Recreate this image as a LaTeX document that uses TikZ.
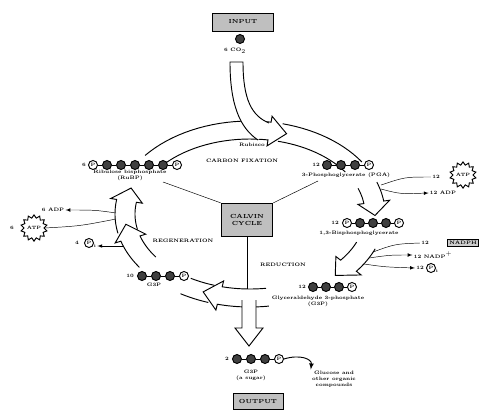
\documentclass[tikz,border=0pt]{standalone}
\usepackage{tikz}
\usetikzlibrary{shapes, positioning}

\tikzset{
  cc/.style={circle, draw, thick, fill=black!75, minimum size=0.27cm, inner sep=0pt},
  pp/.style={circle, draw, thick, fill=white, minimum size=0.27cm, inner sep=0pt,
    font=\fontsize{4}{4}\selectfont\bfseries},
  lbl/.style={font=\fontsize{4.2}{5}\selectfont\bfseries, inner sep=1pt, align=center},
  tag/.style={draw, thick, fill=black!25, inner sep=2pt, align=center,
    font=\fontsize{5}{6}\selectfont\bfseries},
  burst/.style={star, star points=14, star point ratio=1.3, draw, thick, fill=white,
    minimum size=0.62cm, inner sep=0pt, font=\fontsize{4}{4}\selectfont\bfseries},
}

% wide arrow along the cycle, from angle #1 to #2, head tip at #3
\newcommand{\bandhead}[3]{%
  \filldraw[thick, fill=white] plot[domain=#1:#2, samples=20] ({135*cos(\x)}, {93*sin(\x)})
    -- ({141*cos(#2)}, {99*sin(#2)}) -- ({125*cos(#3)}, {84*sin(#3)})
    -- ({109*cos(#2)}, {69*sin(#2)}) -- ({115*cos(#2)}, {75*sin(#2)})
    -- plot[domain=#2:#1, samples=20] ({115*cos(\x)}, {75*sin(\x)});
}
% the two edges only
\newcommand{\bandopen}[2]{%
  \fill[white] plot[domain=#1:#2, samples=15] ({135*cos(\x)}, {93*sin(\x)})
    -- plot[domain=#2:#1, samples=15] ({115*cos(\x)}, {75*sin(\x)}) -- cycle;
  \draw[thick] plot[domain=#1:#2, samples=15] ({135*cos(\x)}, {93*sin(\x)});
  \draw[thick] plot[domain=#1:#2, samples=15] ({115*cos(\x)}, {75*sin(\x)});
}

\begin{document}
\begin{tikzpicture}[x=0.03cm, y=-0.03cm, > = latex]
  \useasboundingbox (0,0) rectangle (496,414);

  % the cycle
  \begin{scope}[shift={(250,214)}]
    \bandopen{284}{326}
    \bandhead{219}{279}{287}
    \bandhead{340}{352}{361}
    \bandhead{22}{38}{47}
    \bandopen{108}{121}
    \bandhead{82}{104}{112}
    \bandhead{168}{189}{198}
    \bandhead{145}{163}{173}
  \end{scope}

  % CO2 coming in
  \fill[white] (230,62) -- (243,62) .. controls (243,100) and (252,116) .. (269,123)
    -- (258,140) .. controls (240,128) and (230,105) .. (230,62) -- cycle;
  \draw[thick] (258,140) .. controls (240,128) and (230,105) .. (230,62)
    -- (243,62) .. controls (243,100) and (252,116) .. (269,123);

  % sugar going out
  \filldraw[thick, fill=white] (242,300) -- (242,328) -- (235,328) -- (249,346)
    -- (263,328) -- (256,328) -- (256,300);

  % boxes
  \node[tag, minimum width=1.85cm, minimum height=0.54cm] (inp) at (243,22) {INPUT};
  \node[tag, minimum width=1.55cm, minimum height=1.0cm] (calvin) at (247,220) {CALVIN\\CYCLE};
  \node[tag, minimum width=1.5cm, minimum height=0.48cm] (outp) at (258,401) {OUTPUT};

  \coordinate (kL) at (163,182);
  \coordinate (kR) at (318,181);
  \coordinate (kB) at (247,289);
  \draw (calvin.north west) -- (kL);
  \draw (calvin.north east) -- (kR);
  \draw (calvin.south) -- (kB);

  % phase names
  \node[lbl] (fix) at (242,161) {CARBON FIXATION};
  \node[lbl] (rub) at (252,145) {Rubisco};
  \node[lbl] (regen) at (183,241) {REGENERATION};
  \node[lbl] (red) at (283,265) {REDUCTION};

  % CO2
  \node[cc] (co2) at (240,39) {};
  \node[lbl] (co2t) at (235,51) {6 CO$_2$};

  % RuBP
  \node[lbl] (rubpn) at (84,165) {6};
  \node[pp] (rubp0) at (93,165) {P};
  \foreach \i in {1,...,5}
    \node[cc] (rubp\i) at ({93+14*\i},165) {};
  \node[pp] (rubp6) at (177,165) {P};
  \foreach \i [count=\j from 1] in {0,...,5}
    \draw[thick] (rubp\i) -- (rubp\j);
  \node[lbl] (rubpt) at (130,175) {Ribulose bisphosphate\\(RuBP)};

  % PGA
  \node[lbl] (pgan) at (316,165) {12};
  \foreach \i in {0,1,2}
    \node[cc] (pga\i) at ({327+14*\i},165) {};
  \node[pp] (pga3) at (369,165) {P};
  \foreach \i [count=\j from 1] in {0,1,2}
    \draw[thick] (pga\i) -- (pga\j);
  \node[lbl] (pgat) at (346,175) {3-Phosphoglycerate (PGA)};

  % 1,3-bisphosphoglycerate
  \node[lbl] (bpgn) at (335,223) {12};
  \node[pp] (bpg0) at (347,223) {P};
  \foreach \i in {1,2,3}
    \node[cc] (bpg\i) at ({347+13*\i},223) {};
  \node[pp] (bpg4) at (399,223) {P};
  \foreach \i [count=\j from 1] in {0,...,3}
    \draw[thick] (bpg\i) -- (bpg\j);
  \node[lbl] (bpgt) at (359,233) {1,3-Bisphosphoglycerate};

  % G3P
  \node[lbl] (gapn) at (302,287) {12};
  \foreach \i in {0,1,2}
    \node[cc] (gap\i) at ({313+13*\i},287) {};
  \node[pp] (gap3) at (352,287) {P};
  \foreach \i [count=\j from 1] in {0,1,2}
    \draw[thick] (gap\i) -- (gap\j);
  \node[lbl] (gapt) at (318,301) {Glyceraldehyde 3-phosphate\\(G3P)};

  % G3P back to RuBP
  \node[lbl] (tenn) at (130,276) {10};
  \foreach \i in {0,1,2}
    \node[cc] (ten\i) at ({142+14*\i},276) {};
  \node[pp] (ten3) at (184,276) {P};
  \foreach \i [count=\j from 1] in {0,1,2}
    \draw[thick] (ten\i) -- (ten\j);
  \node[lbl] (tent) at (154,285) {G3P};

  % output sugar
  \node[lbl] (outn) at (227,359) {2};
  \foreach \i in {0,1,2}
    \node[cc] (o\i) at ({237+14*\i},359) {};
  \node[pp] (o3) at (279,359) {P};
  \foreach \i [count=\j from 1] in {0,1,2}
    \draw[thick] (o\i) -- (o\j);
  \node[lbl] (outt) at (251,375) {G3P\\(a sugar)};
  \node[lbl] (gluc) at (334,379) {Glucose and\\other organic\\compounds};
  \draw[->, thick] (o3.east) .. controls (300,354) and (312,359) .. (gluc.north west);

  % ATP and ADP, left
  \node[lbl] (adpL) at (53,210) {6 ADP};
  \node[burst] (atpL) at (34,228) {ATP};
  \node[lbl] (atpLn) at (12,228) {6};
  \coordinate (bL1) at (116,213);
  \coordinate (bL2) at (116,219);
  \draw[->] (bL1) .. controls (95,210) .. (adpL.east);
  \draw (bL2) .. controls (80,226) .. (atpL.east);

  % Pi, left
  \node[lbl] (piLn) at (77,243) {4};
  \node[pp] (piL) at (89,243) {P};
  \node[lbl, font=\fontsize{4}{4}\selectfont\bfseries] (piLi) at (95,246) {i};
  \coordinate (bP) at (123,246);
  \draw[->] (bP) -- (piLi.east);

  % ATP and ADP, right
  \node[lbl] (atpRn) at (436,177) {12};
  \node[burst] (atpR) at (463,175) {ATP};
  \node[lbl] (adpR) at (443,193) {12 ADP};
  \coordinate (bA1) at (381,185);
  \coordinate (bA2) at (381,189);
  \draw (bA1) .. controls (405,177) .. (atpRn.west);
  \draw[->] (bA2) .. controls (400,194) .. (adpR.west);

  % NADPH, right
  \node[lbl] (nadphn) at (425,243) {12};
  \node[tag, fill=black!20, font=\fontsize{4.2}{5}\selectfont\bfseries, inner sep=1.5pt] (nadph) at (463,243) {NADPH};
  \node[lbl] (nadp) at (433,255) {12 NADP$^+$};
  \node[lbl] (pirn) at (420,268) {12};
  \node[pp] (pir) at (431,268) {P};
  \node[lbl, font=\fontsize{4}{4}\selectfont\bfseries] (piri) at (437,271) {i};
  \coordinate (bN1) at (373,252);
  \coordinate (bN2) at (369,258);
  \coordinate (bN3) at (364,264);
  \draw (bN1) .. controls (395,244) .. (nadphn.west);
  \draw[->] (bN2) .. controls (390,255) .. (nadp.west);
  \draw[->] (bN3) .. controls (385,267) .. (pirn.west);
\end{tikzpicture}
\end{document}
